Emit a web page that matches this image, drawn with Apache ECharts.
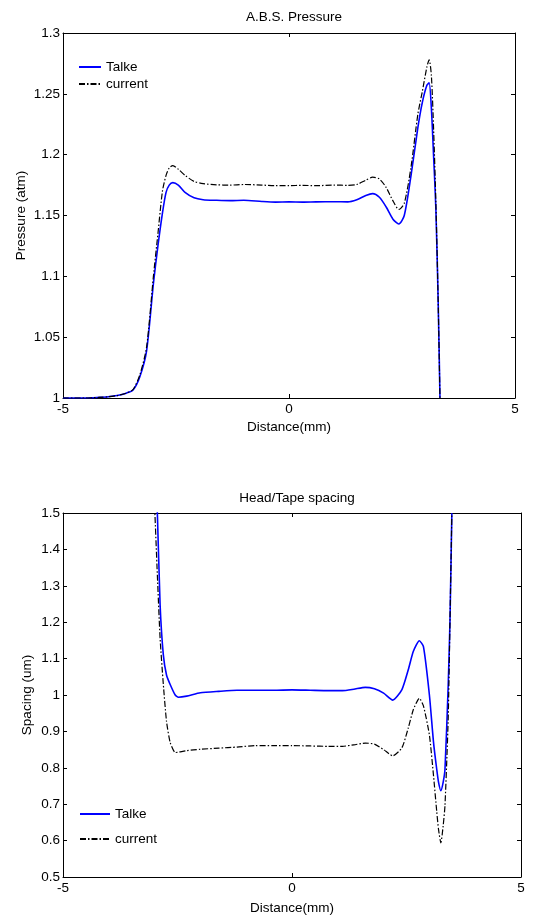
<!DOCTYPE html>
<html>
<head>
<meta charset="utf-8">
<script src="https://cdn.jsdelivr.net/npm/echarts@6/dist/echarts.min.js"></script>
<style>
html,body{margin:0;padding:0;background:#fff;}
#chart{width:533px;height:916px;}
</style>
</head>
<body>
<div id="chart"></div>
<script>
// ---- Data ----
var pressX = [-5, -4.5, -4.2, -4.0, -3.8, -3.6, -3.45, -3.3, -3.15, -3.0, -2.9, -2.8, -2.72, -2.65, -2.57, -2.45, -2.3, -2.1, -1.9, -1.6, -1.3, -1.0, -0.6, -0.3, 0, 0.3, 0.6, 1.0, 1.3, 1.5, 1.7, 1.85, 2.0, 2.15, 2.3, 2.43, 2.55, 2.7, 2.85, 2.95, 3.05, 3.1, 3.15, 3.2, 3.25, 3.3, 3.34];
var pressTalke = [1.0, 1.0, 1.0005, 1.001, 1.002, 1.004, 1.0066, 1.0175, 1.039, 1.094, 1.125, 1.152, 1.169, 1.175, 1.177, 1.175, 1.169, 1.1645, 1.163, 1.1625, 1.1622, 1.1625, 1.1615, 1.161, 1.1612, 1.161, 1.1612, 1.1613, 1.1612, 1.163, 1.1665, 1.168, 1.165, 1.157, 1.147, 1.143, 1.150, 1.183, 1.222, 1.243, 1.257, 1.259, 1.238, 1.198, 1.155, 1.08, 1.0];
var pressCurrent = [1.0, 1.0, 1.0005, 1.001, 1.002, 1.004, 1.007, 1.019, 1.042, 1.1, 1.135, 1.17, 1.183, 1.189, 1.191, 1.188, 1.183, 1.178, 1.1762, 1.1752, 1.175, 1.1755, 1.175, 1.1745, 1.1745, 1.1748, 1.1745, 1.175, 1.1748, 1.1755, 1.179, 1.1815, 1.18, 1.173, 1.162, 1.155, 1.16, 1.19, 1.233, 1.252, 1.272, 1.278, 1.265, 1.22, 1.16, 1.08, 1.0];

var spaceX = [-3.0, -2.94, -2.88, -2.81, -2.74, -2.66, -2.55, -2.48, -2.3, -2.0, -1.6, -1.2, -0.8, -0.4, 0, 0.4, 0.8, 1.1, 1.35, 1.6, 1.8, 2.0, 2.2, 2.4, 2.54, 2.65, 2.78, 2.87, 3.0, 3.09, 3.16, 3.2, 3.25, 3.3, 3.34, 3.41, 3.45, 3.49];
var spaceTalke = [1.66, 1.50, 1.248, 1.111, 1.055, 1.029, 1.0, 0.994, 0.997, 1.006, 1.01, 1.013, 1.013, 1.013, 1.014, 1.013, 1.012, 1.012, 1.016, 1.021, 1.017, 1.005, 0.986, 1.015, 1.07, 1.12, 1.149, 1.133, 1.0, 0.87, 0.796, 0.76, 0.737, 0.76, 0.796, 1.024, 1.207, 1.5];
var spaceCurrent = [1.52, 1.33, 1.156, 1.03, 0.928, 0.87, 0.842, 0.843, 0.847, 0.851, 0.854, 0.857, 0.861, 0.861, 0.861, 0.86, 0.859, 0.859, 0.863, 0.868, 0.865, 0.85, 0.833, 0.855, 0.91, 0.96, 0.991, 0.97, 0.89, 0.778, 0.68, 0.63, 0.594, 0.64, 0.696, 0.933, 1.207, 1.5];

var seriesNames = ['Talke', 'current'];
var titles = ['A.B.S. Pressure', 'Head/Tape spacing'];
var yNames = ['Pressure (atm)', 'Spacing (um)'];
var xName = 'Distance(mm)';

function pairs(xs, ys) { return xs.map(function (x, i) { return [x, ys[i]]; }); }

var FONT = 'Liberation Sans, Arial, Helvetica, sans-serif';
var txt = { color: '#000', fontFamily: FONT, fontSize: 13.5 };

var blueStyle = { color: '#0000ff', width: 1.6, type: 'solid' };
var blackStyle = { color: '#000000', width: 1.2, type: [6, 2, 1.5, 2] };

function axLine() { return { show: true, onZero: false, lineStyle: { color: '#000', width: 1 } }; }
function axTick() { return { show: true, inside: true, length: 4, lineStyle: { color: '#000' } }; }

function xAxes(gi, gap) {
  return [
    { gridIndex: gi, type: 'value', min: -5, max: 5, interval: 5, position: 'bottom',
      name: xName, nameLocation: 'middle', nameGap: gap, nameMoveOverlap: false, nameTextStyle: txt,
      axisLine: axLine(), axisTick: axTick(),
      axisLabel: Object.assign({ margin: 4 }, txt), splitLine: { show: false } },
    { gridIndex: gi, type: 'value', min: -5, max: 5, interval: 5, position: 'top',
      axisLine: axLine(), axisTick: axTick(),
      axisLabel: { show: false }, splitLine: { show: false } }
  ];
}
function yAxes(gi, min, max, interval, gap) {
  return [
    { gridIndex: gi, type: 'value', min: min, max: max, interval: interval, position: 'left',
      name: yNames[gi], nameLocation: 'middle', nameGap: gap, nameMoveOverlap: false, nameTextStyle: txt,
      axisLine: axLine(), axisTick: axTick(),
      axisLabel: Object.assign({ margin: 3 }, txt), splitLine: { show: false } },
    { gridIndex: gi, type: 'value', min: min, max: max, interval: interval, position: 'right',
      axisLine: axLine(), axisTick: axTick(),
      axisLabel: { show: false }, splitLine: { show: false } }
  ];
}

var chart = echarts.init(document.getElementById('chart'), null, { renderer: 'canvas' });
chart.setOption({
  animation: false,
  backgroundColor: '#fff',
  title: [
    { text: titles[0], left: 289, top: 5, textAlign: 'center', textStyle: Object.assign({ fontWeight: 'normal' }, txt) },
    { text: titles[1], left: 292, top: 486, textAlign: 'center', textStyle: Object.assign({ fontWeight: 'normal' }, txt) }
  ],
  legend: [
    { orient: 'vertical', left: 73, top: 55, itemWidth: 22, itemHeight: 14, itemGap: 3,
      textStyle: txt, data: seriesNames, selectedMode: false,
      itemStyle: { opacity: 0, borderWidth: 0 } },
    { orient: 'vertical', left: 74, top: 802, itemWidth: 30, itemHeight: 14, itemGap: 11,
      textStyle: txt, data: seriesNames, selectedMode: false,
      itemStyle: { opacity: 0, borderWidth: 0 } }
  ],
  grid: [
    { left: 63, right: 18, top: 33, height: 365 },
    { left: 63, right: 12, top: 513, height: 365 }
  ],
  xAxis: xAxes(0, 22).concat(xAxes(1, 24)),
  yAxis: yAxes(0, 1, 1.3, 0.05, 35).concat(yAxes(1, 0.5, 1.5, 0.1, 29)),
  series: [
    { name: seriesNames[0], type: 'line', xAxisIndex: 0, yAxisIndex: 0, data: pairs(pressX, pressTalke),
      showSymbol: false, symbol: 'none', smooth: 0.25, lineStyle: blueStyle, itemStyle: { color: '#0000ff' }, clip: true },
    { name: seriesNames[1], type: 'line', xAxisIndex: 0, yAxisIndex: 0, data: pairs(pressX, pressCurrent),
      showSymbol: false, symbol: 'none', smooth: 0.25, lineStyle: blackStyle, itemStyle: { color: '#000' }, clip: true },
    { name: seriesNames[0], type: 'line', xAxisIndex: 2, yAxisIndex: 2, data: pairs(spaceX, spaceTalke),
      showSymbol: false, symbol: 'none', smooth: 0.2, lineStyle: blueStyle, itemStyle: { color: '#0000ff' }, clip: true },
    { name: seriesNames[1], type: 'line', xAxisIndex: 2, yAxisIndex: 2, data: pairs(spaceX, spaceCurrent),
      showSymbol: false, symbol: 'none', smooth: 0.2, lineStyle: blackStyle, itemStyle: { color: '#000' }, clip: true }
  ]
});
</script>
</body>
</html>
